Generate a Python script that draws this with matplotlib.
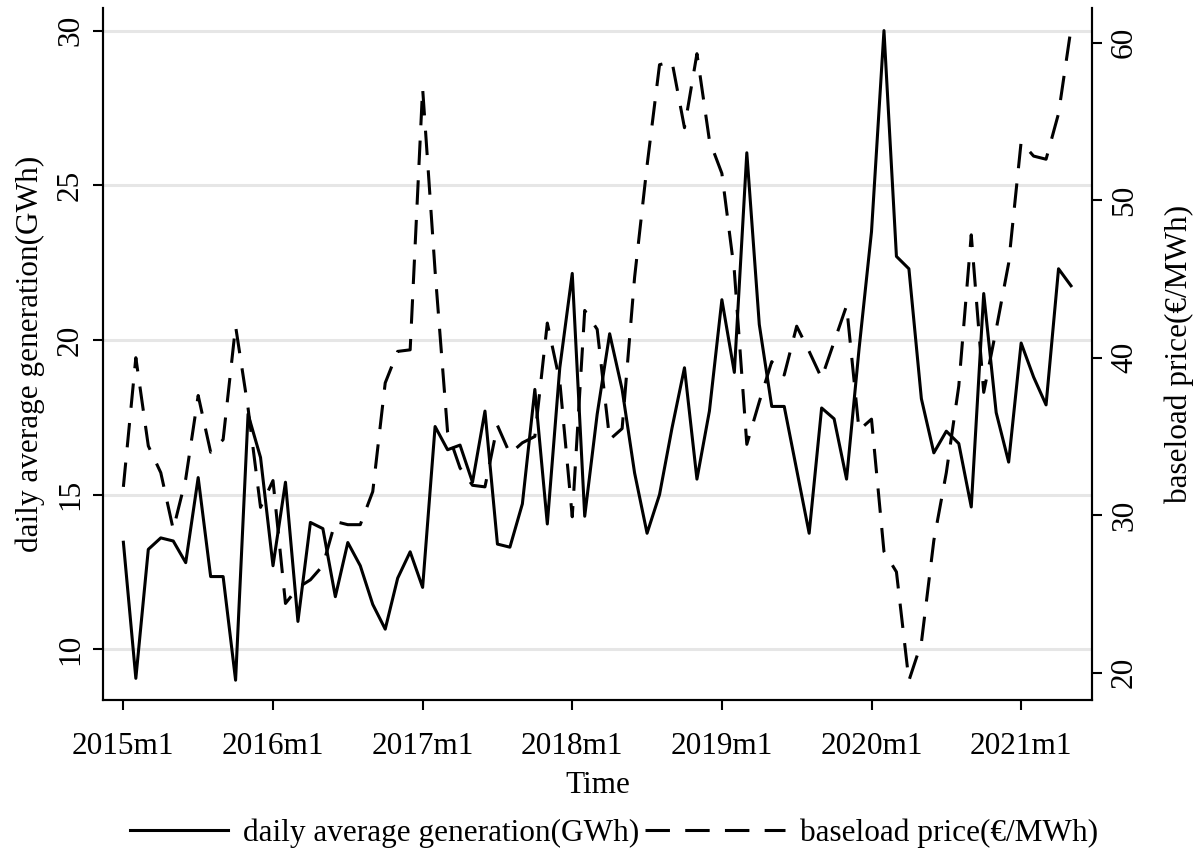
import numpy as np
import matplotlib.pyplot as plt
from matplotlib.lines import Line2D

plt.rcParams['font.family'] = ['Liberation Serif', 'DejaVu Serif']

# monthly series 2015m1 .. 2021m5
start_year = 2015
generation = [
    13.46, 9.06, 13.23, 13.6, 13.5, 12.8, 15.55, 12.35, 12.35, 9.0, 17.6, 16.2,
    12.7, 15.4, 10.9, 14.1, 13.9, 11.7, 13.45, 12.7, 11.45, 10.65, 12.3, 13.15,
    12.0, 17.2, 16.45, 16.6, 15.4, 17.7, 13.4, 13.3, 14.7, 18.4, 14.05, 19.1,
    22.15, 14.3, 17.6, 20.2, 18.4, 15.7, 13.75, 15.0, 17.15, 19.1, 15.5, 17.7,
    21.3, 18.95, 26.05, 20.5, 17.85, 17.85, 15.8, 13.75, 17.8, 17.45, 15.5, 19.7,
    23.5, 30.0, 22.7, 22.3, 18.1, 16.35, 17.05, 16.65, 14.6, 21.5, 17.65, 16.05,
    19.9, 18.8, 17.9, 22.3, 21.75,
]
price = [
    31.8, 40.0, 34.4, 32.7, 29.1, 32.3, 37.6, 34.0, 34.8, 42.0, 36.8, 30.5,
    32.2, 24.4, 25.4, 25.9, 26.8, 29.6, 29.4, 29.4, 31.5, 38.4, 40.4, 40.5,
    57.1, 45.5, 35.3, 33.0, 31.9, 31.8, 35.7, 33.9, 34.6, 35.0, 42.2, 38.5,
    29.9, 43.0, 41.8, 34.8, 35.5, 45.1, 52.2, 58.6, 58.8, 54.6, 59.3, 53.8,
    51.7, 45.5, 34.5, 37.2, 39.75, 38.9, 42.0, 40.4, 38.7, 41.0, 43.3, 35.4,
    36.1, 27.7, 26.4, 19.5, 21.9, 28.4, 32.7, 38.2, 47.8, 37.8, 41.8, 46.0,
    53.7, 52.8, 52.6, 55.5, 60.9,
]
left_ticks = [10, 15, 20, 25, 30]
right_ticks = [20, 30, 40, 50, 60]
x_ticks = list(range(0, 73, 12))
x_labels = ["%dm1" % (start_year + i) for i in range(len(x_ticks))]

gen_label = "daily average generation(GWh)"
price_label = "baseload price(€/MWh)"

FS = 22.5
LW = 2.2
DASH = (8, 5)

x = np.arange(len(generation))

fig = plt.figure(figsize=(12.01, 8.61), dpi=100)
ax = fig.add_axes([0.0858, 0.187, 0.8234, 0.8037])
ax2 = ax.twinx()

ax.plot(x, generation, color="black", lw=LW)
ax2.plot(x, price, color="black", lw=LW, dashes=DASH)

ax.set_xlim(-1.63, 77.68)
ax.set_ylim(8.36, 30.73)
ax2.set_ylim(18.27, 62.2)

ax.set_yticks(left_ticks)
ax2.set_yticks(right_ticks)
ax.set_xticks(x_ticks)
ax.set_xticklabels(x_labels)

ax.yaxis.grid(True, color="#e6e6e6", lw=2.2)
ax.set_axisbelow(True)

for a in (ax, ax2):
    a.spines["top"].set_visible(False)
    for s in ("left", "right", "bottom"):
        a.spines[s].set_linewidth(1.5)
    a.tick_params(length=7, width=1.5, labelsize=FS, pad=6)

ax.tick_params(axis="x", pad=16)
for lbl in ax.get_yticklabels() + ax2.get_yticklabels():
    lbl.set_rotation(90)
    lbl.set_va("center")

ax.set_xlabel("Time", fontsize=FS, labelpad=7)
ax.set_ylabel(gen_label, fontsize=FS, labelpad=8)
ax2.set_ylabel(price_label, fontsize=FS, labelpad=18, rotation=90)

# two legend entries with different sample lengths, as in the original
leg1 = fig.legend([Line2D([], [], color="black", lw=LW)], [gen_label],
                  loc="center left", bbox_to_anchor=(130 / 1201, 0.032),
                  frameon=False, fontsize=FS, handlelength=3.14,
                  handletextpad=0.48, borderpad=0, borderaxespad=0)
leg2 = fig.legend([Line2D([], [], color="black", lw=LW, dashes=DASH)],
                  [price_label],
                  loc="center left", bbox_to_anchor=(645 / 1201, 0.032),
                  frameon=False, fontsize=FS, handlelength=4.48,
                  handletextpad=0.48, borderpad=0, borderaxespad=0)

fig.savefig("out.png", dpi=100)
